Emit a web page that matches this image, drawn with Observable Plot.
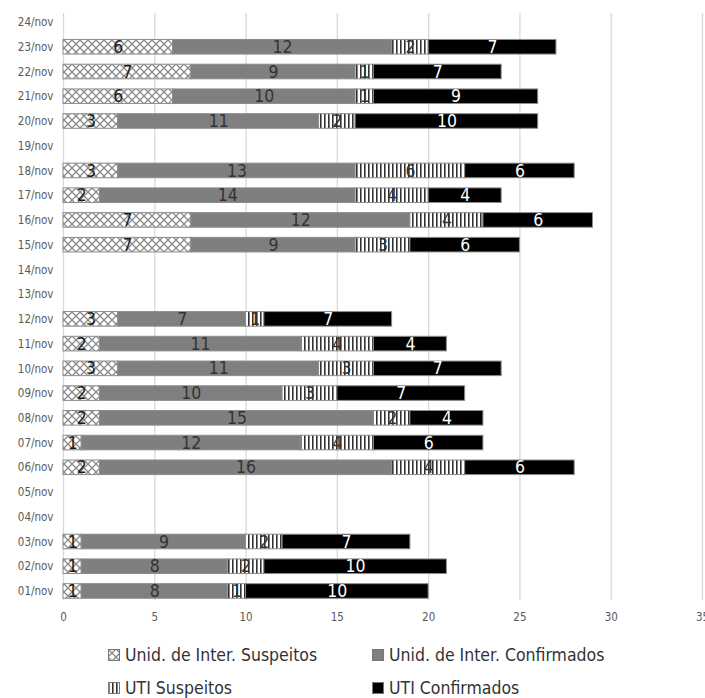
<!DOCTYPE html>
<html>
<head>
<meta charset="utf-8">
<script src="https://cdn.jsdelivr.net/npm/d3@7"></script>
<script src="https://cdn.jsdelivr.net/npm/@observablehq/plot@0.6"></script>
<style>
  body { margin: 0; background: #fff; font-family: "DejaVu Sans Condensed", "DejaVu Sans", sans-serif; font-stretch: condensed; }
  #chart { width: 705px; }
  .legend { display: grid; grid-template-columns: 264px 300px; padding-left: 108px; row-gap: 8px; margin-top: 12px; }
  .legend .item { display: flex; align-items: center; font-size: 17.5px; color: #333; height: 25px; white-space: nowrap; }
  .legend svg { margin-right: 5px; flex-shrink: 0; }
  svg text { font-stretch: condensed; }
</style>
</head>
<body>
<div id="chart"></div>
<script>
const dates = ["24/nov","23/nov","22/nov","21/nov","20/nov","19/nov","18/nov","17/nov","16/nov","15/nov","14/nov","13/nov","12/nov","11/nov","10/nov","09/nov","08/nov","07/nov","06/nov","05/nov","04/nov","03/nov","02/nov","01/nov"];
const series = ["Unid. de Inter. Suspeitos","Unid. de Inter. Confirmados","UTI Suspeitos","UTI Confirmados"];
// values per date (null = no data), in series order
const unidSuspeitos   = [null,6,7,6,3,null,3,2,7,7,null,null,3,2,3,2,2,1,2,null,null,1,1,1];
const unidConfirmados = [null,12,9,10,11,null,13,14,12,9,null,null,7,11,11,10,15,12,16,null,null,9,8,8];
const utiSuspeitos    = [null,2,1,1,2,null,6,4,4,3,null,null,1,4,3,3,2,4,4,null,null,2,2,1];
const utiConfirmados  = [null,7,7,9,10,null,6,4,6,6,null,null,7,4,7,7,4,6,6,null,null,7,10,10];
const xTicks = [0,5,10,15,20,25,30,35];

const cols = [unidSuspeitos, unidConfirmados, utiSuspeitos, utiConfirmados];
const data = [];
dates.forEach((d, i) => {
  series.forEach((s, j) => {
    const v = cols[j][i];
    if (v != null) data.push({date: d, series: s, value: v});
  });
});
const fills = ["url(#pCross)", "#7f7f7f", "url(#pVert)", "#000000"];

const stackOpts = {y: "date", x: "value", z: "series", order: series};

// stack all segments, then keep a subset for a given label colour
function labels(keep, color) {
  const st = Plot.stackX({...stackOpts, text: "value"});
  const inner = st.transform;
  return Plot.text(data, {
    ...st,
    fill: color,
    fontSize: 17.5,
    transform: (d, facets) => {
      const r = inner(d, facets);
      return {data: r.data, facets: r.facets.map(f => f.filter(i => keep(r.data[i])))};
    }
  });
}

const plot = Plot.plot({
  width: 705,
  height: 630,
  marginLeft: 63,
  marginRight: 3,
  marginTop: 13,
  marginBottom: 30,
  style: {fontFamily: '"DejaVu Sans Condensed", "DejaVu Sans", sans-serif', fontSize: "11.5px", color: "#595959", overflow: "hidden"},
  x: {domain: [0, 35], ticks: xTicks, label: null, tickSize: 0, tickPadding: 12},
  y: {domain: dates, label: null, tickSize: 0, tickPadding: 10, paddingInner: 0.41, paddingOuter: 0.07, round: false},
  color: {domain: series, range: fills},
  marks: [
    Plot.ruleX(xTicks, {stroke: "#d9d9d9", strokeWidth: 1.3}),
    Plot.barX(data, Plot.stackX({...stackOpts, fill: "series", stroke: "#8c8c8c", strokeWidth: 1})),
    labels(d => d.series === "Unid. de Inter. Suspeitos", "#1a1a1a"),
    labels(d => d.series === "Unid. de Inter. Confirmados" || d.series === "UTI Suspeitos", "#333"),
    labels(d => d.series === "UTI Confirmados", "#fff")
  ]
});

const defsMarkup = `
<pattern id="pCross" patternUnits="userSpaceOnUse" width="8" height="8">
  <rect width="8" height="8" fill="#fff"/>
  <path d="M0,0 L8,8 M8,0 L0,8" stroke="#8a8a8a" stroke-width="1.3"/>
</pattern>
<pattern id="pVert" patternUnits="userSpaceOnUse" width="4" height="4">
  <rect width="4" height="4" fill="#fff"/>
  <rect x="0" y="0" width="1.6" height="4" fill="#333"/>
</pattern>`;
const defs = document.createElementNS("http://www.w3.org/2000/svg", "defs");
defs.innerHTML = defsMarkup;
plot.insertBefore(defs, plot.firstChild);

document.getElementById("chart").appendChild(plot);

// legend
const legend = document.createElement("div");
legend.className = "legend";
[0, 1, 2, 3].forEach(j => {
  const item = document.createElement("div");
  item.className = "item";
  item.innerHTML = `<svg width="12" height="12"><rect x="0.5" y="0.5" width="11" height="11" fill="${fills[j]}" stroke="#777" stroke-width="1"/></svg><span>${series[j]}</span>`;
  legend.appendChild(item);
});
document.getElementById("chart").appendChild(legend);
</script>
</body>
</html>
